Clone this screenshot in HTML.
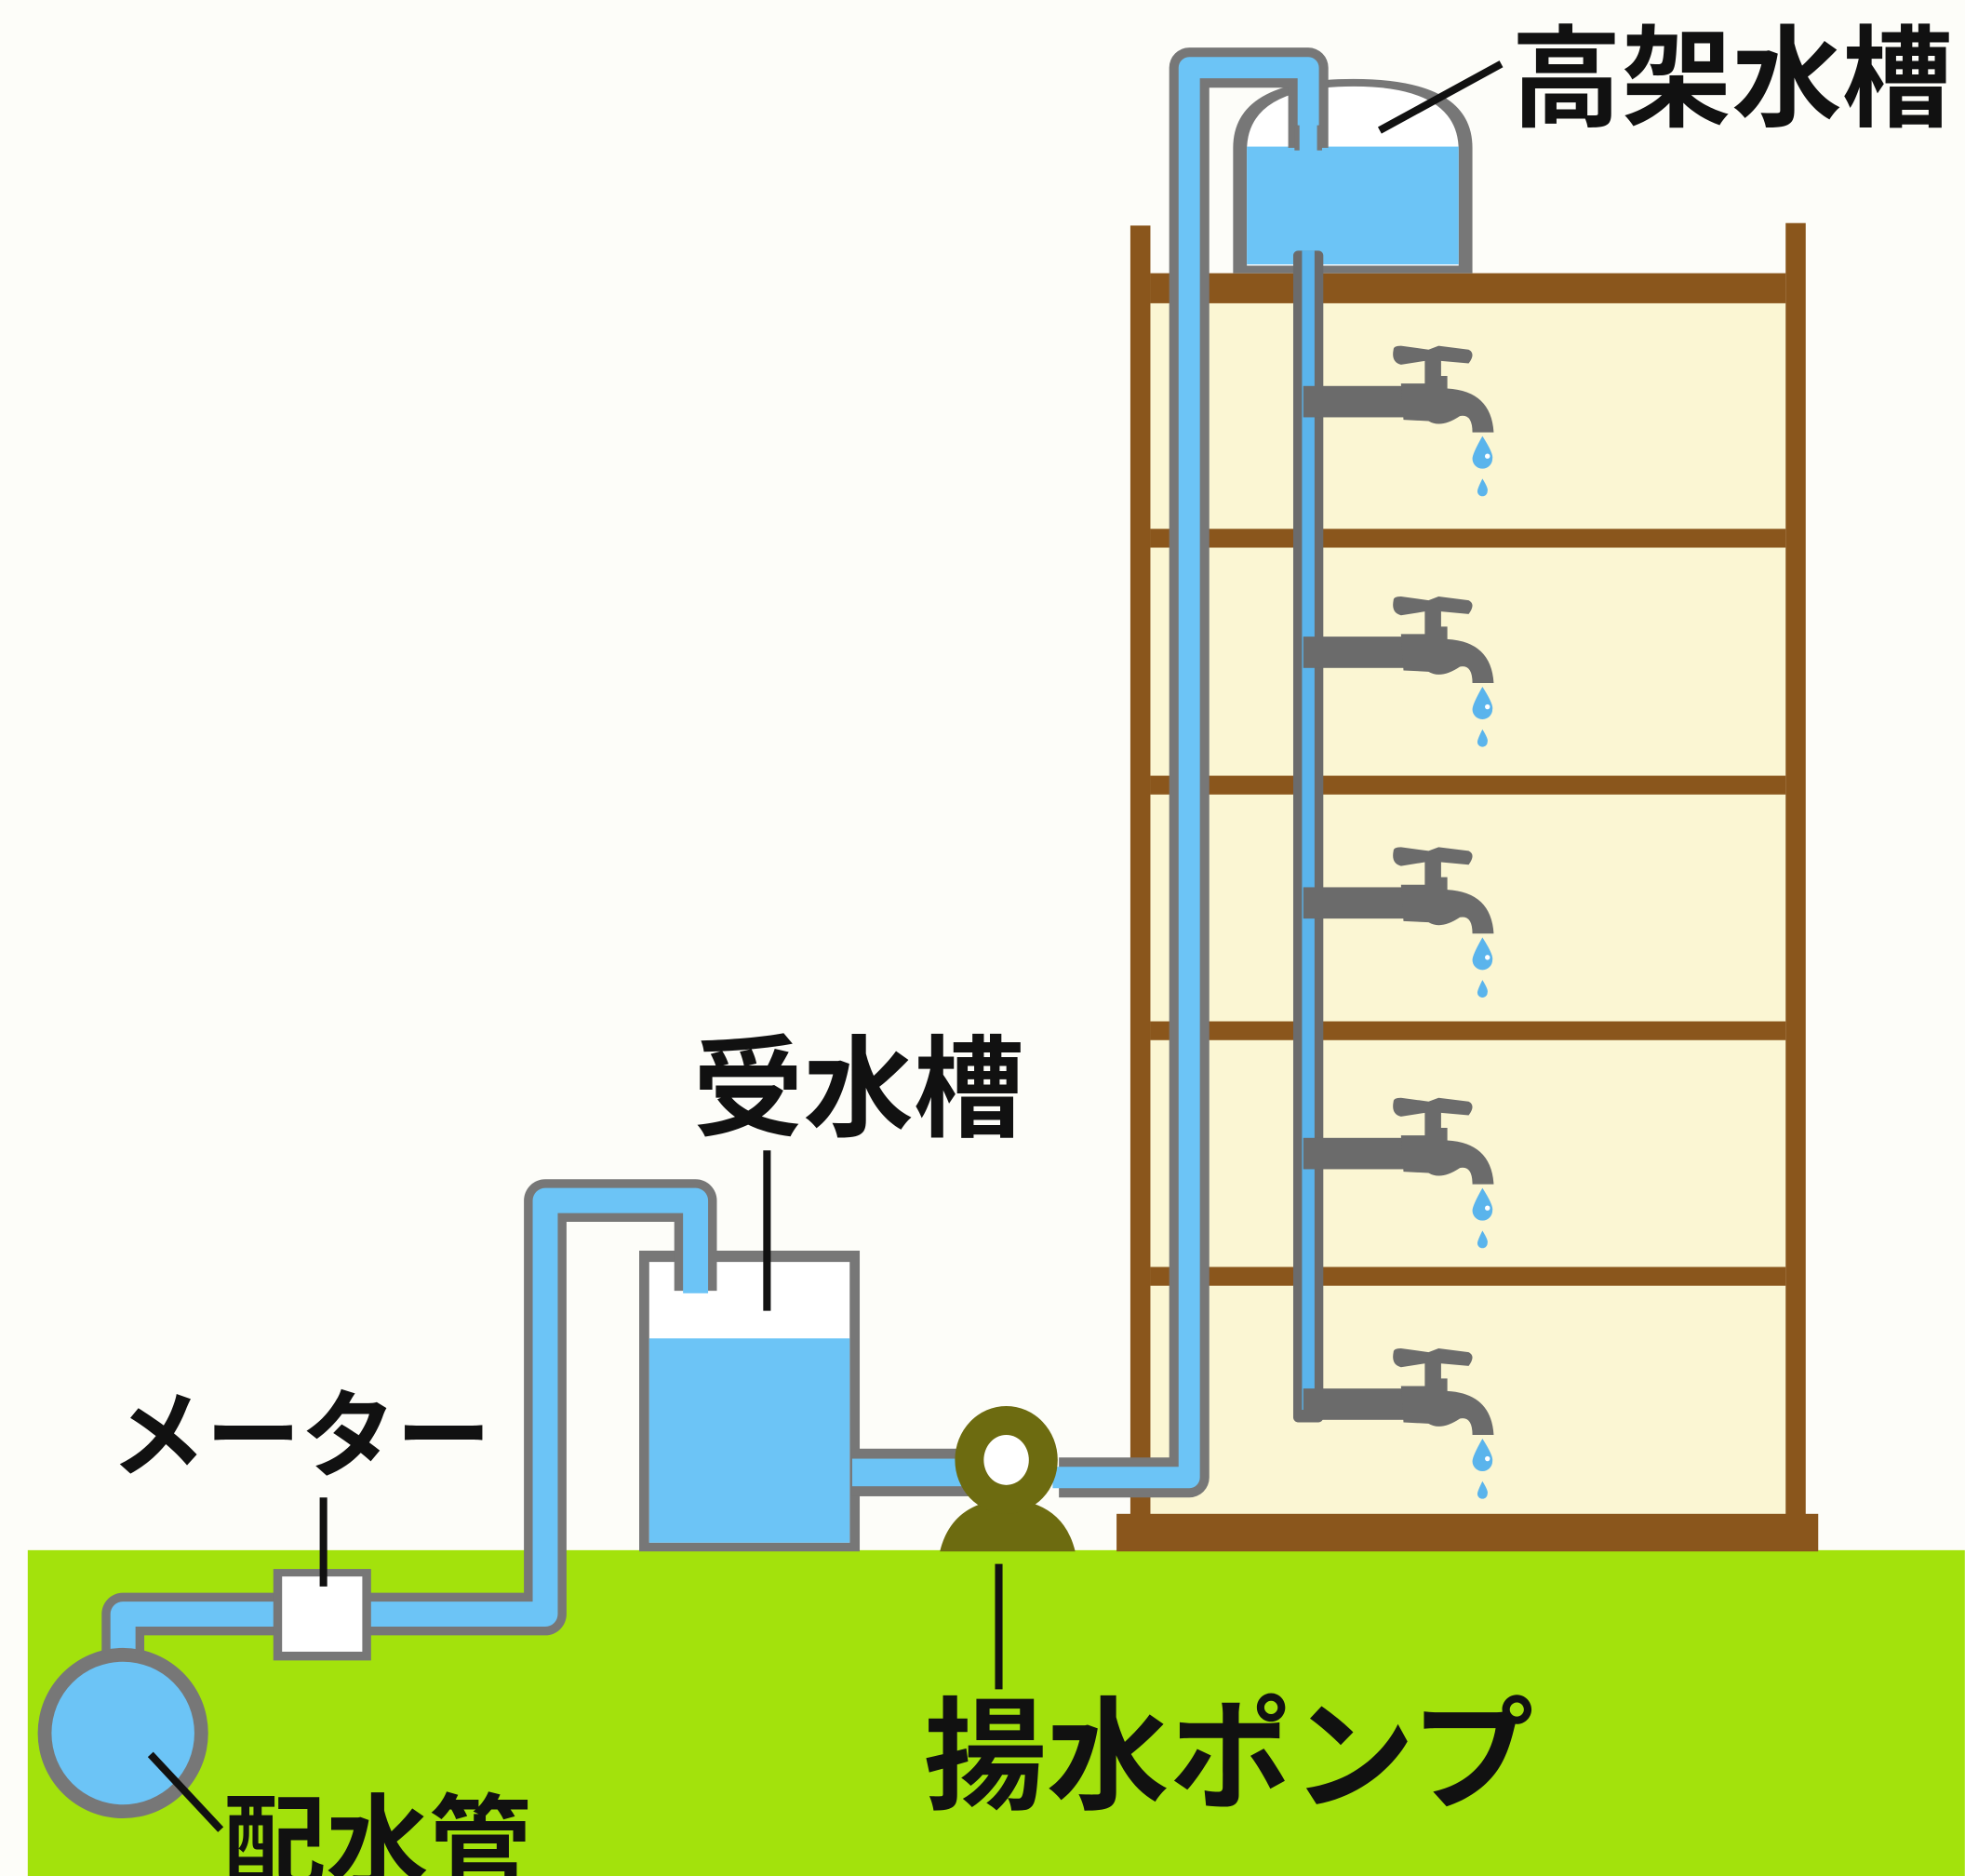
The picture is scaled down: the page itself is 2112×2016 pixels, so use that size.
<!DOCTYPE html>
<html><head><meta charset="utf-8"><style>
html,body{margin:0;padding:0;background:#fdfdf9;}
svg{display:block}
text{font-family:"Liberation Sans","Noto Sans CJK JP",sans-serif;font-weight:bold;fill:#111;}
</style></head><body>
<svg width="2112" height="2016" viewBox="0 0 1568 1497" xmlns="http://www.w3.org/2000/svg">
<defs>
<g id="faucet">
  <rect x="1040" y="308" width="80" height="25" fill="#6b6b6b"/>
  <path d="M1112,279 Q1112,276 1118,276 L1140,279 L1148,276 L1172,279 Q1178,282 1172,290 L1150,288 L1150,300 L1155,300 L1155,310 Q1190,312 1192,345 L1175,345 Q1175,330 1165,332 Q1150,342 1140,336 L1120,335 L1118,306 L1137,306 L1137,288 L1118,291 Q1110,289 1112,279 Z" fill="#6b6b6b"/>
  <path d="M1183,348 Q1192,362 1191,366 A8,8 0 0 1 1175,366 Q1175,362 1183,348 Z" fill="#5ab4ec"/>
  <circle cx="1187" cy="364" r="2" fill="#fff"/>
  <path d="M1183,382 Q1188,390 1187,392 A4,4 0 0 1 1179,392 Q1179,390 1183,382 Z" fill="#5ab4ec"/>
</g>
</defs>
<rect x="0" y="0" width="1568" height="1497" fill="#fdfdf9"/>
<!-- ground -->
<rect x="22" y="1237" width="1546" height="260" fill="#a3e20c"/>
<!-- building -->
<rect x="918" y="230" width="507" height="980" fill="#fbf6d3"/>
<rect x="902" y="180" width="16" height="1040" fill="#8a561c"/>
<rect x="1425" y="178" width="16" height="1042" fill="#8a561c"/>
<rect x="918" y="218" width="507" height="24" fill="#8a561c"/>
<rect x="918" y="422" width="507" height="15" fill="#8a561c"/>
<rect x="918" y="619" width="507" height="15" fill="#8a561c"/>
<rect x="918" y="815" width="507" height="15" fill="#8a561c"/>
<rect x="918" y="1011" width="507" height="15" fill="#8a561c"/>
<rect x="891" y="1208" width="560" height="30" fill="#8a561c"/>
<!-- elevated tank -->
<path d="M984,218 V118 Q984,63 1080,63 Q1175,63 1175,118 V218 Z" fill="#fff" stroke="#777" stroke-width="0"/>
<path d="M984,218 V118 Q984,63 1080,63 Q1175,63 1175,118 V218 Z" fill="#777"/>
<path d="M995,212 V120 Q995,69 1080,69 Q1164,69 1164,120 V212 Z" fill="#fff"/>
<rect x="995" y="117" width="169" height="94" fill="#6cc4f6"/>
<!-- down pipe -->
<rect x="1032" y="200" width="24" height="935" fill="#6b6b6b" rx="4"/>
<rect x="1039" y="200" width="10" height="925" fill="#5ab4ec"/>
<use href="#faucet"/>
<use href="#faucet" transform="translate(0,200)"/>
<use href="#faucet" transform="translate(0,400)"/>
<use href="#faucet" transform="translate(0,600)"/>
<use href="#faucet" transform="translate(0,800)"/>
<!-- riser pipe -->
<path d="M845,1179 H949 V54 H1044 V118" fill="none" stroke="#777" stroke-width="32" stroke-linejoin="round"/>
<path d="M840,1179 H949 V54 H1044 V120" fill="none" stroke="#6cc4f6" stroke-width="17" stroke-linejoin="round"/>
<path d="M1035,100 V120 M1053,100 V120" stroke="#777" stroke-width="4"/>
<!-- receiving tank -->
<rect x="510" y="998" width="176" height="240" fill="#777"/>
<rect x="518" y="1007" width="160" height="224" fill="#fff"/>
<rect x="518" y="1068" width="160" height="163" fill="#6cc4f6"/>
<!-- pump pipe -->
<rect x="680" y="1156" width="100" height="38" fill="#777"/>
<rect x="680" y="1164" width="100" height="22" fill="#6cc4f6"/>
<!-- supply pipe -->
<path d="M98,1330 V1288 H435 V958 H555 V1030" fill="none" stroke="#777" stroke-width="34" stroke-linejoin="round"/>
<path d="M98,1335 V1288 H435 V958 H555 V1032" fill="none" stroke="#6cc4f6" stroke-width="20" stroke-linejoin="round"/>
<!-- main -->
<circle cx="98" cy="1383" r="68" fill="#777"/>
<circle cx="98" cy="1383" r="57" fill="#6cc4f6"/>
<!-- meter -->
<rect x="218" y="1252" width="78" height="73" fill="#777"/>
<rect x="225" y="1258" width="64" height="60" fill="#fff"/>
<!-- pump -->
<path d="M750,1238 Q758,1205 790,1198 L818,1198 Q850,1205 858,1238 Z" fill="#6d6b10"/>
<ellipse cx="803" cy="1165" rx="41" ry="43" fill="#6d6b10"/>
<ellipse cx="803" cy="1165" rx="18" ry="20" fill="#fff"/>
<!-- leaders -->
<g stroke="#111" stroke-width="6">
<line x1="1101" y1="104" x2="1198" y2="51"/>
<line x1="612" y1="918" x2="612" y2="1046"/>
<line x1="258" y1="1195" x2="258" y2="1266"/>
<line x1="797" y1="1248" x2="797" y2="1348"/>
<line x1="120" y1="1400" x2="176" y2="1460"/>
</g>
<!-- labels -->
<text x="1206" y="94" font-size="88">高架水槽</text>
<text x="553" y="900" font-size="88">受水槽</text>
<text x="88" y="1172" font-size="76">メーター</text>
<text x="737" y="1436" font-size="98">揚水ポンプ</text>
<text x="178" y="1500" font-size="82">配水管</text>
</svg>
</body></html>
